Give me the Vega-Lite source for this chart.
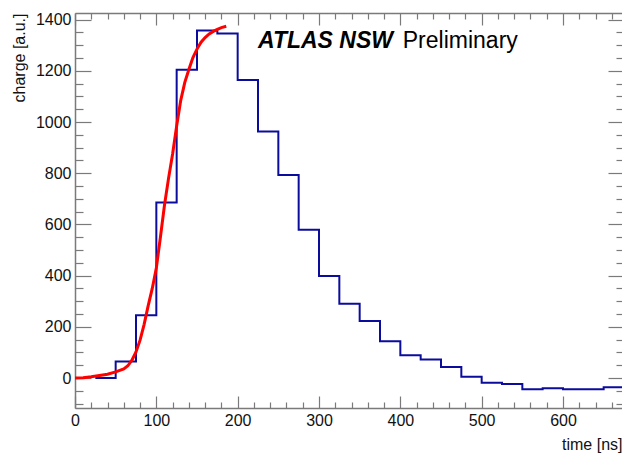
{
  "$schema": "https://vega.github.io/schema/vega-lite/v6.json",
  "width": 549,
  "height": 395,
  "autosize": {"type": "none"},
  "padding": {"left": 75, "top": 13, "right": 0, "bottom": 49},
  "background": "white",
  "config": {
    "view": {"stroke": null},
    "font": "Liberation Sans",
    "axis": {
      "grid": false,
      "domainColor": "#7a7a7a",
      "domainWidth": 1.5,
      "tickColor": "#7a7a7a",
      "tickWidth": 1.2,
      "labelFont": "Liberation Sans",
      "labelFontSize": 16,
      "labelColor": "#111111",
      "labelFlush": false,
      "labelOverlap": false,
      "titleFont": "Liberation Sans",
      "titleFontSize": 16,
      "titleFontWeight": "normal",
      "titleColor": "#111111"
    }
  },
  "datasets": {
    "hist": [
      {"t": 25, "q": 0}, {"t": 50, "q": 65}, {"t": 75, "q": 245}, {"t": 100, "q": 686},
      {"t": 125, "q": 1204}, {"t": 150, "q": 1358}, {"t": 175, "q": 1346}, {"t": 200, "q": 1164},
      {"t": 225, "q": 963}, {"t": 250, "q": 793}, {"t": 275, "q": 579}, {"t": 300, "q": 399},
      {"t": 325, "q": 290}, {"t": 350, "q": 223}, {"t": 375, "q": 144}, {"t": 400, "q": 89},
      {"t": 425, "q": 72}, {"t": 450, "q": 43}, {"t": 475, "q": 5}, {"t": 500, "q": -18},
      {"t": 525, "q": -23}, {"t": 550, "q": -44}, {"t": 575, "q": -40}, {"t": 600, "q": -44},
      {"t": 625, "q": -44}, {"t": 650, "q": -36}, {"t": 675, "q": -36}
    ],
    "fit": [
      {"t": 0, "q": 0}, {"t": 10, "q": 1}, {"t": 20, "q": 5}, {"t": 30, "q": 10}, {"t": 40, "q": 15},
      {"t": 50, "q": 24}, {"t": 60, "q": 36}, {"t": 65, "q": 48}, {"t": 70, "q": 70}, {"t": 75, "q": 102},
      {"t": 80, "q": 148}, {"t": 85, "q": 210}, {"t": 90, "q": 283}, {"t": 95, "q": 350}, {"t": 100, "q": 430},
      {"t": 105, "q": 550}, {"t": 110, "q": 675}, {"t": 115, "q": 780}, {"t": 120, "q": 875}, {"t": 125, "q": 985},
      {"t": 130, "q": 1085}, {"t": 135, "q": 1155}, {"t": 140, "q": 1205}, {"t": 145, "q": 1252}, {"t": 150, "q": 1285},
      {"t": 155, "q": 1312}, {"t": 160, "q": 1330}, {"t": 165, "q": 1344}, {"t": 170, "q": 1354}, {"t": 175, "q": 1362},
      {"t": 180, "q": 1369}, {"t": 186, "q": 1374}
    ]
  },
  "resolve": {"axis": {"x": "independent", "y": "independent"}},
  "layer": [
    {
      "data": {"name": "hist"},
      "mark": {"type": "line", "interpolate": "step-after", "color": "#0c0c9c", "strokeWidth": 2},
      "encoding": {
        "x": {
          "field": "t", "type": "quantitative",
          "scale": {"domain": [0, 675], "nice": false, "zero": false},
          "axis": {"orient": "bottom", "values": [0, 100, 200, 300, 400, 500, 600], "format": "d", "tickSize": -12, "labelPadding": 16, "title": "time [ns]", "titleFontSize": 16, "titleAnchor": "end", "titleAlign": "right", "titleX": 547, "titlePadding": 8}
        },
        "y": {
          "field": "q", "type": "quantitative",
          "scale": {"domain": [-117, 1426], "nice": false, "zero": false},
          "axis": {"orient": "left", "values": [0, 200, 400, 600, 800, 1000, 1200, 1400], "format": "d", "tickSize": -16, "labelPadding": 20, "title": "charge [a.u.]", "titleFontSize": 16, "titleAnchor": "end", "titlePadding": 8}
        }
      }
    },
    {
      "data": {"name": "fit"},
      "mark": {"type": "line", "color": "#ff0000", "strokeWidth": 3},
      "encoding": {
        "x": {
          "field": "t", "type": "quantitative",
          "scale": {"domain": [0, 675], "nice": false, "zero": false},
          "axis": {"orient": "bottom", "values": [20, 40, 60, 80, 120, 140, 160, 180, 220, 240, 260, 280, 320, 340, 360, 380, 420, 440, 460, 480, 520, 540, 560, 580, 620, 640, 660], "tickSize": -6, "labels": false, "domain": false, "title": null}
        },
        "y": {
          "field": "q", "type": "quantitative",
          "scale": {"domain": [-117, 1426], "nice": false, "zero": false},
          "axis": {"orient": "left", "values": [-100, -50, 50, 100, 150, 250, 300, 350, 450, 500, 550, 650, 700, 750, 850, 900, 950, 1050, 1100, 1150, 1250, 1300, 1350], "tickSize": -8, "labels": false, "domain": false, "title": null}
        }
      }
    },
    {
      "data": {"values": [{"label": "ATLAS NSW"}]},
      "mark": {"type": "text", "font": "Liberation Sans", "fontSize": 23, "fontWeight": "bold", "fontStyle": "italic", "align": "left", "baseline": "alphabetic", "color": "#000000"},
      "encoding": {
        "text": {"field": "label"},
        "x": {
          "datum": 225, "type": "quantitative",
          "scale": {"domain": [0, 675], "nice": false, "zero": false},
          "axis": {"orient": "top", "values": [0, 100, 200, 300, 400, 500, 600], "tickSize": -12, "labels": false, "domain": true, "title": null}
        },
        "y": {
          "datum": 1288, "type": "quantitative",
          "scale": {"domain": [-117, 1426], "nice": false, "zero": false},
          "axis": {"orient": "right", "values": [0, 200, 400, 600, 800, 1000, 1200, 1400], "tickSize": -16, "labels": false, "domain": true, "title": null}
        }
      }
    },
    {
      "data": {"values": [{"label": "Preliminary"}]},
      "mark": {"type": "text", "font": "Liberation Sans", "fontSize": 23, "fontWeight": "normal", "align": "left", "baseline": "alphabetic", "color": "#000000"},
      "encoding": {
        "text": {"field": "label"},
        "x": {
          "datum": 403, "type": "quantitative",
          "scale": {"domain": [0, 675], "nice": false, "zero": false},
          "axis": {"orient": "top", "values": [20, 40, 60, 80, 120, 140, 160, 180, 220, 240, 260, 280, 320, 340, 360, 380, 420, 440, 460, 480, 520, 540, 560, 580, 620, 640, 660], "tickSize": -6, "labels": false, "domain": false, "title": null}
        },
        "y": {
          "datum": 1288, "type": "quantitative",
          "scale": {"domain": [-117, 1426], "nice": false, "zero": false},
          "axis": {"orient": "right", "values": [-100, -50, 50, 100, 150, 250, 300, 350, 450, 500, 550, 650, 700, 750, 850, 900, 950, 1050, 1100, 1150, 1250, 1300, 1350], "tickSize": -8, "labels": false, "domain": false, "title": null}
        }
      }
    }
  ]
}
